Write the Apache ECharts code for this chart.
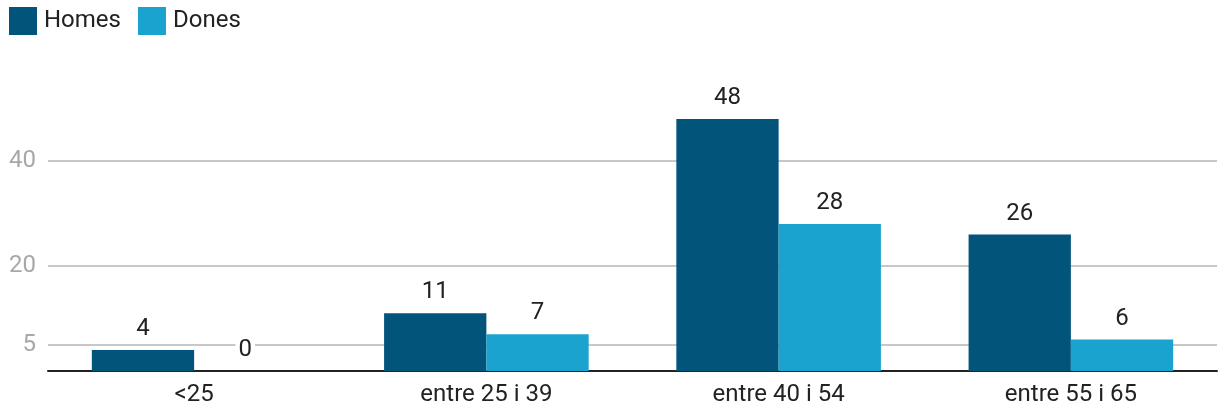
<!DOCTYPE html>
<html>
<head>
<meta charset="utf-8">
<script src="https://cdn.jsdelivr.net/npm/echarts@6/dist/echarts.min.js"></script>
<style>html,body{margin:0;padding:0;background:#fff;}#c{width:1218px;height:410px;}</style>
</head>
<body>
<div id="c"></div>
<script>
const categories = ['<25', 'entre 25 i 39', 'entre 40 i 54', 'entre 55 i 65'];
const homes = [4, 11, 48, 26];
const dones = [0, 7, 28, 6];
const yTicks = [5, 20, 40];

const chart = echarts.init(document.getElementById('c'));
const labelStyle = {
  show: true, position: 'top', distance: 9,
  fontFamily: 'Roboto', fontSize: 24, color: '#222',
  backgroundColor: '#fff', padding: [0, 3]
};
chart.setOption({
  animation: false,
  textStyle: { fontFamily: 'Roboto' },
  legend: {
    left: 9, top: 7, itemWidth: 28, itemHeight: 28, itemGap: 17, padding: 0,
    icon: 'rect',
    textStyle: { fontFamily: 'Roboto', fontSize: 24, color: '#222', padding: [2, 0, 0, 2] },
    data: ['Homes', 'Dones']
  },
  grid: { left: 48, right: 1, top: 56, bottom: 39, containLabel: false },
  xAxis: {
    type: 'category', data: categories,
    axisLine: { show: true, lineStyle: { color: '#222', width: 2 } },
    axisTick: { show: false },
    axisLabel: { fontFamily: 'Roboto', fontSize: 24, color: '#222', margin: 12 }
  },
  yAxis: {
    type: 'value', min: 0, max: 60,
    axisLine: { show: false },
    axisTick: { show: false, customValues: yTicks },
    axisLabel: { customValues: yTicks, fontFamily: 'Roboto', fontSize: 24, color: '#a8a8a8', margin: 12 },
    splitLine: { show: true, lineStyle: { color: '#c8c8c8', width: 2 } }
  },
  series: [
    { name: 'Homes', type: 'bar', data: homes, barGap: '0%', barCategoryGap: '30%',
      itemStyle: { color: '#02547a' }, label: labelStyle },
    { name: 'Dones', type: 'bar', data: dones, barGap: '0%', barCategoryGap: '30%',
      itemStyle: { color: '#1aa3ce' }, label: labelStyle }
  ]
});
</script>
</body>
</html>
